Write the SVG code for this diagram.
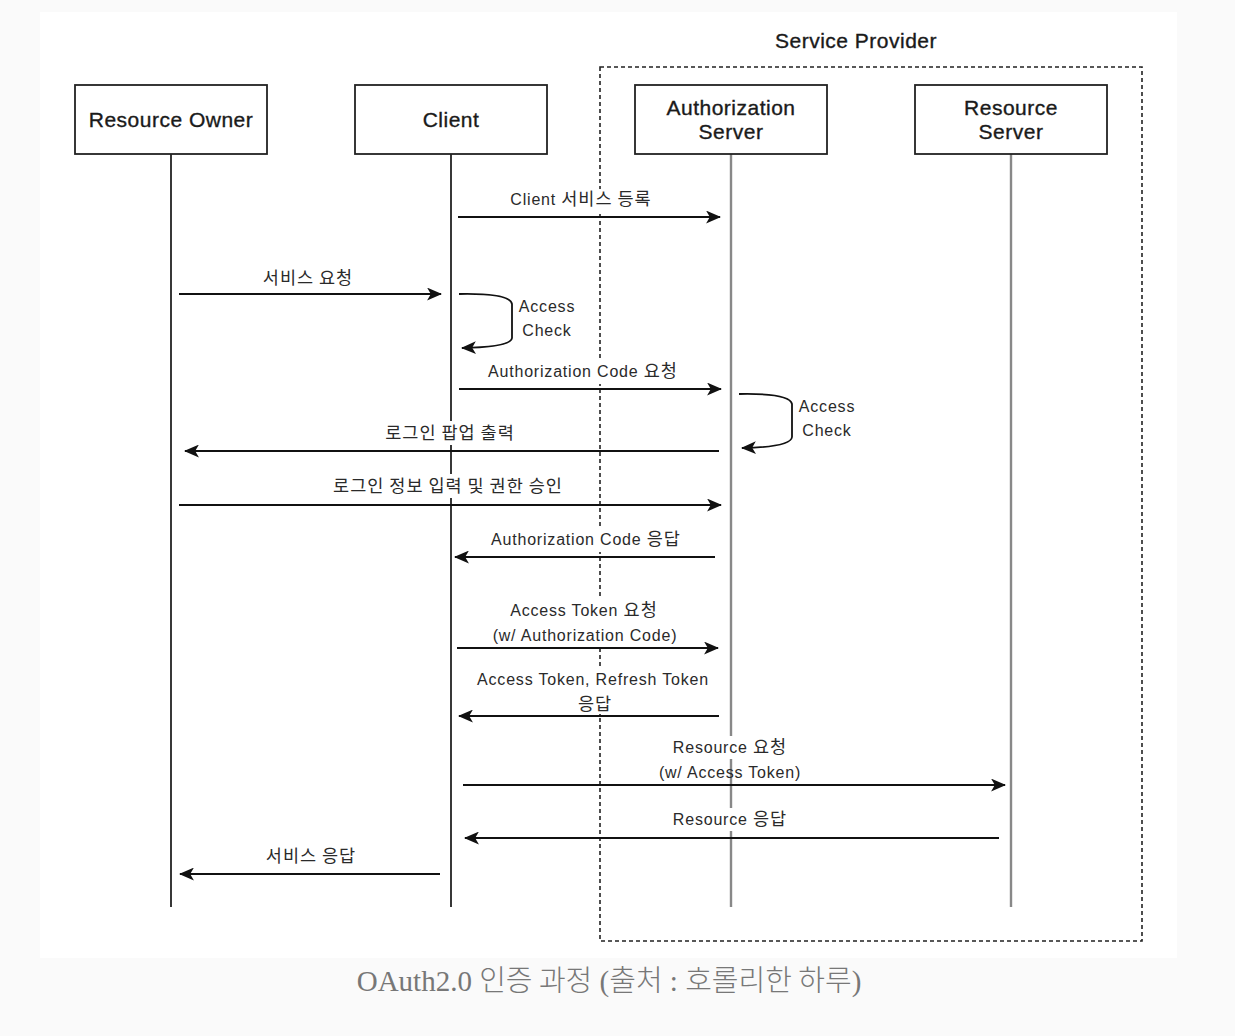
<svg xmlns="http://www.w3.org/2000/svg" width="1235" height="1036" viewBox="0 0 1235 1036">
<style>
.box{fill:#fff;stroke:#222;stroke-width:1.8}
.bt{font-family:"Liberation Sans",Arial,sans-serif;font-size:21px;fill:#1a1a1a;stroke:#1a1a1a;stroke-width:0.35;text-anchor:middle;letter-spacing:0.5px}
.lt{font-family:"Liberation Sans","Noto Sans CJK KR",sans-serif;font-size:16px;fill:#2a2a2a;text-anchor:middle;letter-spacing:0.8px}
.k{font-family:"Noto Sans CJK KR",sans-serif;font-size:17.5px;letter-spacing:1px}
.ll{stroke:#222;stroke-width:1.8;fill:none}
.llg{stroke:#888;stroke-width:2.4;fill:none}
.msg{stroke:#111;stroke-width:1.8;fill:none}
.bg{fill:#fff}
</style>
<defs>
<marker id="ah" viewBox="0 0 14 12" refX="13" refY="6" markerWidth="15" markerHeight="13" markerUnits="userSpaceOnUse" orient="auto">
<path d="M0,0 L14,6 L0,12 L3.5,6 z" fill="#111"/>
</marker>
</defs>
<rect x="0" y="0" width="1235" height="1036" fill="#fafafa"/>
<rect x="40" y="12" width="1137" height="946" fill="#fff"/>

<g id="lifelines">
<line class="ll" x1="171" y1="154" x2="171" y2="907"/>
<line class="ll" x1="451" y1="154" x2="451" y2="907"/>
<line class="llg" x1="731" y1="154" x2="731" y2="907"/>
<line class="llg" x1="1011" y1="154" x2="1011" y2="907"/>
</g>

<g id="service-provider">
<rect x="600" y="67" width="542" height="874" fill="none" stroke="#222" stroke-width="1.6" stroke-dasharray="4,3"/>
<text class="bt" x="856" y="48">Service Provider</text>
</g>

<g id="resource-owner">
<rect class="box" x="75" y="85" width="192" height="69"/>
<text class="bt" x="171" y="127">Resource Owner</text>
</g>
<g id="client">
<rect class="box" x="355" y="85" width="192" height="69"/>
<text class="bt" x="451" y="127">Client</text>
</g>
<g id="authorization-server">
<rect class="box" x="635" y="85" width="192" height="69"/>
<text class="bt" x="731" y="115">Authorization</text>
<text class="bt" x="731" y="139">Server</text>
</g>
<g id="resource-server">
<rect class="box" x="915" y="85" width="192" height="69"/>
<text class="bt" x="1011" y="115">Resource</text>
<text class="bt" x="1011" y="139">Server</text>
</g>

<g id="connectors">
<rect class="bg" x="508" y="189" width="146" height="23"/>
<text class="lt" x="581" y="205">Client <tspan class="k">서비스 등록</tspan></text>
<line class="msg" x1="458" y1="217" x2="720" y2="217" marker-end="url(#ah)"/>

<text class="lt" x="308" y="284"><tspan class="k">서비스 요청</tspan></text>
<line class="msg" x1="179" y1="294" x2="441" y2="294" marker-end="url(#ah)"/>

<path class="msg" d="M459,294 Q510,293 512,304 L512,338 Q511,347 462,348" marker-end="url(#ah)"/>
<text class="lt" x="547" y="312">Access</text>
<text class="lt" x="547" y="336">Check</text>

<rect class="bg" x="486" y="361" width="194" height="23"/>
<text class="lt" x="583" y="377">Authorization Code <tspan class="k">요청</tspan></text>
<line class="msg" x1="459" y1="389" x2="721" y2="389" marker-end="url(#ah)"/>

<path class="msg" d="M739,394 Q790,393 792,404 L792,437 Q791,447 742,448" marker-end="url(#ah)"/>
<text class="lt" x="827" y="412">Access</text>
<text class="lt" x="827" y="436">Check</text>

<rect class="bg" x="382" y="421" width="136" height="24"/>
<text class="lt" x="450" y="439"><tspan class="k">로그인 팝업 출력</tspan></text>
<line class="msg" x1="719" y1="451" x2="185" y2="451" marker-end="url(#ah)"/>

<rect class="bg" x="329" y="474" width="239" height="24"/>
<text class="lt" x="448" y="492"><tspan class="k">로그인 정보 입력 및 권한 승인</tspan></text>
<line class="msg" x1="179" y1="505" x2="721" y2="505" marker-end="url(#ah)"/>

<rect class="bg" x="489" y="529" width="194" height="23"/>
<text class="lt" x="586" y="545">Authorization Code <tspan class="k">응답</tspan></text>
<line class="msg" x1="715" y1="557" x2="455" y2="557" marker-end="url(#ah)"/>

<rect class="bg" x="491" y="599" width="189" height="47"/>
<text class="lt" x="584" y="616">Access Token <tspan class="k">요청</tspan></text>
<text class="lt" x="585" y="641">(w/ Authorization Code)</text>
<line class="msg" x1="457" y1="648" x2="718" y2="648" marker-end="url(#ah)"/>

<rect class="bg" x="475" y="668" width="236" height="46"/>
<text class="lt" x="593" y="685">Access Token, Refresh Token</text>
<text class="lt" x="595" y="710"><tspan class="k">응답</tspan></text>
<line class="msg" x1="719" y1="716" x2="459" y2="716" marker-end="url(#ah)"/>

<rect class="bg" x="668" y="736" width="124" height="23"/>
<text class="lt" x="730" y="753">Resource <tspan class="k">요청</tspan></text>
<text class="lt" x="730" y="778">(w/ Access Token)</text>
<line class="msg" x1="463" y1="785" x2="1005" y2="785" marker-end="url(#ah)"/>

<rect class="bg" x="668" y="808" width="124" height="23"/>
<text class="lt" x="730" y="825">Resource <tspan class="k">응답</tspan></text>
<line class="msg" x1="999" y1="838" x2="465" y2="838" marker-end="url(#ah)"/>

<text class="lt" x="311" y="862"><tspan class="k">서비스 응답</tspan></text>
<line class="msg" x1="440" y1="874" x2="180" y2="874" marker-end="url(#ah)"/>
</g>

<text x="609" y="991" font-family="'Liberation Serif','Noto Sans CJK KR',serif" font-size="29" fill="#777" text-anchor="middle">OAuth2.0 <tspan font-family="'Noto Sans CJK KR',sans-serif" font-weight="300">인증 과정</tspan> (<tspan font-family="'Noto Sans CJK KR',sans-serif" font-weight="300">출처</tspan> : <tspan font-family="'Noto Sans CJK KR',sans-serif" font-weight="300">호롤리한 하루</tspan>)</text>
</svg>
